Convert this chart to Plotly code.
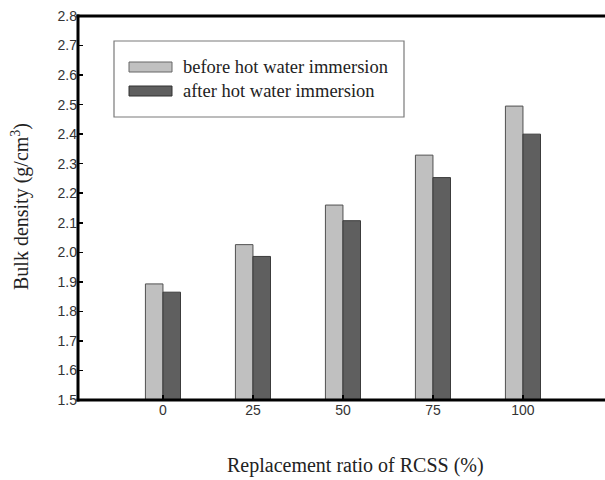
import plotly.graph_objects as go

categories = ["0", "25", "50", "75", "100"]
before = [1.893, 2.026, 2.160, 2.329, 2.495]
after = [1.865, 1.986, 2.107, 2.253, 2.400]
series_names = ["before hot water immersion", "after hot water immersion"]
y_ticks = [1.5, 1.6, 1.7, 1.8, 1.9, 2.0, 2.1, 2.2, 2.3, 2.4, 2.5, 2.6, 2.7, 2.8]

light = "#c0c0c0"
dark = "#5f5f5f"
edge = "#505050"

fig = go.Figure()
fig.add_trace(go.Bar(x=categories, y=before, name=series_names[0],
                     marker=dict(color=light, line=dict(color=edge, width=1)),
                     showlegend=False))
fig.add_trace(go.Bar(x=categories, y=after, name=series_names[1],
                     marker=dict(color=dark, line=dict(color="#3c3c3c", width=1)),
                     showlegend=False))

W, H = 605, 480
L, R, T, B = 78, 0, 16, 80
pw, ph = W - L - R, H - T - B

def px(x):
    return (x - L) / pw

def py(y):
    return 1 - (y - T) / ph

shapes = [
    dict(type="line", xref="paper", yref="paper", x0=px(76.5), x1=px(610), y0=1, y1=1,
         line=dict(color="black", width=3)),
    dict(type="line", xref="paper", yref="paper", x0=px(76.5), x1=px(610), y0=0, y1=0,
         line=dict(color="black", width=3)),
    dict(type="line", xref="paper", yref="paper", x0=0, x1=0, y0=py(401.5), y1=py(14.5),
         line=dict(color="black", width=3)),
    dict(type="rect", xref="paper", yref="paper", x0=px(114), x1=px(404), y0=py(117), y1=py(41),
         line=dict(color="#7a7a7a", width=1.2), fillcolor="white", layer="below"),
    dict(type="rect", xref="paper", yref="paper", x0=px(129), x1=px(172), y0=py(72), y1=py(62),
         line=dict(color="#666", width=1), fillcolor=light),
    dict(type="rect", xref="paper", yref="paper", x0=px(129), x1=px(172), y0=py(96), y1=py(86),
         line=dict(color="#333", width=1), fillcolor=dark),
]
serif = "Liberation Serif"
annotations = [
    dict(xref="paper", yref="paper", x=px(181), y=py(67), text=series_names[0], showarrow=False,
         xanchor="left", yanchor="middle", font=dict(family=serif, size=18.5, color="#222")),
    dict(xref="paper", yref="paper", x=px(181), y=py(91), text=series_names[1], showarrow=False,
         xanchor="left", yanchor="middle", font=dict(family=serif, size=18.5, color="#222")),
    dict(xref="paper", yref="paper", x=px(355), y=py(465), text="Replacement ratio of RCSS (%)",
         showarrow=False, xanchor="center", yanchor="middle",
         font=dict(family=serif, size=20, color="#222")),
    dict(xref="paper", yref="paper", x=px(21), y=py(207), text="Bulk density (g/cm<sup>3</sup>)",
         showarrow=False, xanchor="center", yanchor="middle", textangle=-90,
         font=dict(family=serif, size=20, color="#222")),
]

x_lo = -0.944
x_hi = x_lo + pw / 90.0

fig.update_layout(
    width=W, height=H,
    margin=dict(l=L, r=R, t=T, b=B),
    paper_bgcolor="white", plot_bgcolor="white",
    barmode="group", bargap=0.61, bargroupgap=0.0,
    dragmode=False, hovermode=False,
    shapes=shapes, annotations=annotations,
    xaxis=dict(type="category", range=[x_lo, x_hi], showgrid=False, zeroline=False,
               showline=False,
               ticks="inside", ticklen=5, tickwidth=1.5, tickcolor="black",
               tickfont=dict(family="Liberation Sans", size=14, color="#333")),
    yaxis=dict(range=[1.5, 2.8], tickvals=y_ticks, tickformat=".1f", showgrid=False, zeroline=False,
               showline=False,
               ticks="inside", ticklen=5, tickwidth=1.5, tickcolor="black",
               tickfont=dict(family="Liberation Sans", size=14, color="#333")),
)

fig.write_html("out.html", config={"staticPlot": True, "displayModeBar": False})
